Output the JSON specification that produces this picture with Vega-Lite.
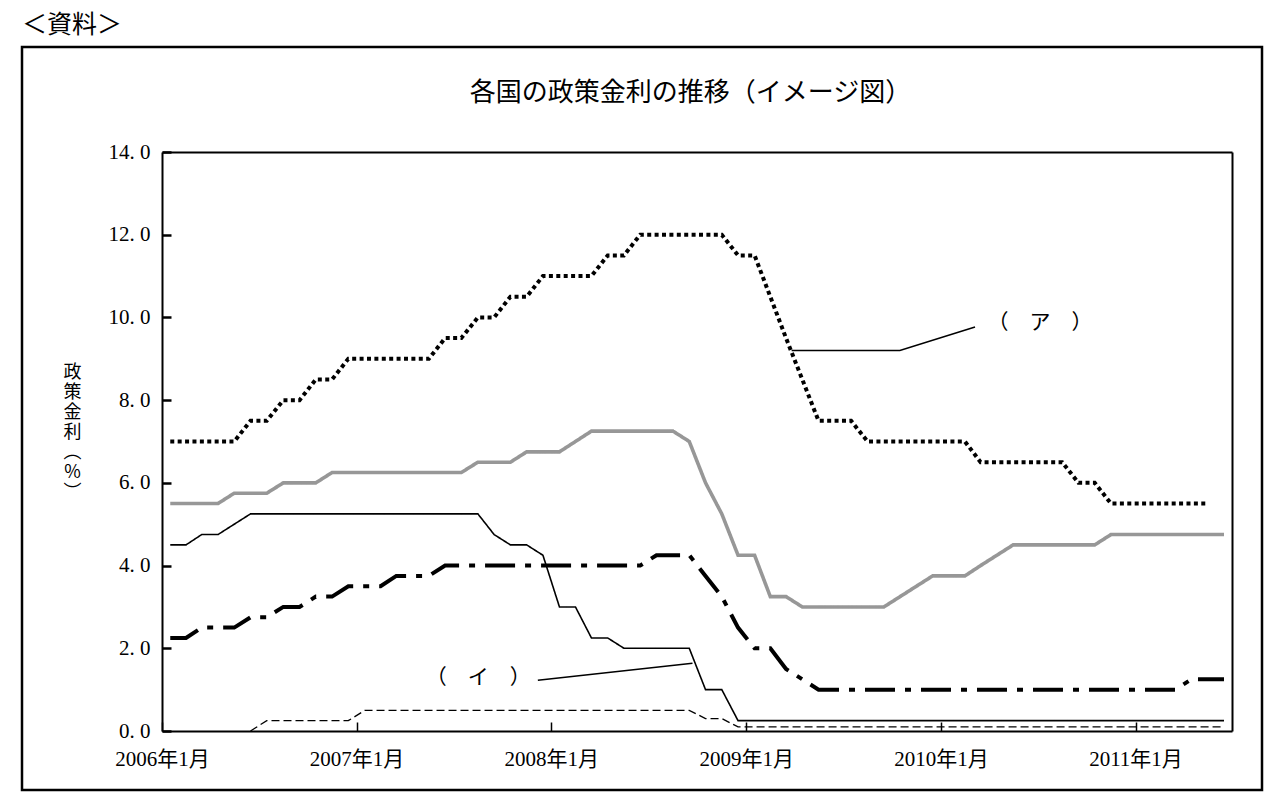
{
  "$schema": "https://vega.github.io/schema/vega-lite/v6.json",
  "width": 1240,
  "height": 743,
  "autosize": {"type": "none"},
  "padding": {"left": 22, "top": 47, "right": 18, "bottom": 14},
  "background": "white",
  "title": {"text": "＜資料＞", "anchor": "start", "frame": "group", "baseline": "bottom", "offset": 9, "dy": 25, "font": "Noto Sans CJK JP", "fontSize": 25, "fontWeight": "normal", "color": "black"},
  "config": {
    "view": {"stroke": "black", "strokeWidth": 2.5},
    "axis": {"grid": false}
  },
  "datasets": {
    "rates": [
      {"month": "2006-01", "series": "ア", "rate": 7.0}, {"month": "2006-02", "series": "ア", "rate": 7.0}, {"month": "2006-03", "series": "ア", "rate": 7.0}, {"month": "2006-04", "series": "ア", "rate": 7.0}, {"month": "2006-05", "series": "ア", "rate": 7.0}, {"month": "2006-06", "series": "ア", "rate": 7.5}, {"month": "2006-07", "series": "ア", "rate": 7.5}, {"month": "2006-08", "series": "ア", "rate": 8.0}, {"month": "2006-09", "series": "ア", "rate": 8.0}, {"month": "2006-10", "series": "ア", "rate": 8.5}, {"month": "2006-11", "series": "ア", "rate": 8.5}, {"month": "2006-12", "series": "ア", "rate": 9.0},
      {"month": "2007-01", "series": "ア", "rate": 9.0}, {"month": "2007-02", "series": "ア", "rate": 9.0}, {"month": "2007-03", "series": "ア", "rate": 9.0}, {"month": "2007-04", "series": "ア", "rate": 9.0}, {"month": "2007-05", "series": "ア", "rate": 9.0}, {"month": "2007-06", "series": "ア", "rate": 9.5}, {"month": "2007-07", "series": "ア", "rate": 9.5}, {"month": "2007-08", "series": "ア", "rate": 10.0}, {"month": "2007-09", "series": "ア", "rate": 10.0}, {"month": "2007-10", "series": "ア", "rate": 10.5}, {"month": "2007-11", "series": "ア", "rate": 10.5}, {"month": "2007-12", "series": "ア", "rate": 11.0},
      {"month": "2008-01", "series": "ア", "rate": 11.0}, {"month": "2008-02", "series": "ア", "rate": 11.0}, {"month": "2008-03", "series": "ア", "rate": 11.0}, {"month": "2008-04", "series": "ア", "rate": 11.5}, {"month": "2008-05", "series": "ア", "rate": 11.5}, {"month": "2008-06", "series": "ア", "rate": 12.0}, {"month": "2008-07", "series": "ア", "rate": 12.0}, {"month": "2008-08", "series": "ア", "rate": 12.0}, {"month": "2008-09", "series": "ア", "rate": 12.0}, {"month": "2008-10", "series": "ア", "rate": 12.0}, {"month": "2008-11", "series": "ア", "rate": 12.0}, {"month": "2008-12", "series": "ア", "rate": 11.5},
      {"month": "2009-01", "series": "ア", "rate": 11.5}, {"month": "2009-02", "series": "ア", "rate": 10.5}, {"month": "2009-03", "series": "ア", "rate": 9.5}, {"month": "2009-04", "series": "ア", "rate": 8.5}, {"month": "2009-05", "series": "ア", "rate": 7.5}, {"month": "2009-06", "series": "ア", "rate": 7.5}, {"month": "2009-07", "series": "ア", "rate": 7.5}, {"month": "2009-08", "series": "ア", "rate": 7.0}, {"month": "2009-09", "series": "ア", "rate": 7.0}, {"month": "2009-10", "series": "ア", "rate": 7.0}, {"month": "2009-11", "series": "ア", "rate": 7.0}, {"month": "2009-12", "series": "ア", "rate": 7.0},
      {"month": "2010-01", "series": "ア", "rate": 7.0}, {"month": "2010-02", "series": "ア", "rate": 7.0}, {"month": "2010-03", "series": "ア", "rate": 6.5}, {"month": "2010-04", "series": "ア", "rate": 6.5}, {"month": "2010-05", "series": "ア", "rate": 6.5}, {"month": "2010-06", "series": "ア", "rate": 6.5}, {"month": "2010-07", "series": "ア", "rate": 6.5}, {"month": "2010-08", "series": "ア", "rate": 6.5}, {"month": "2010-09", "series": "ア", "rate": 6.0}, {"month": "2010-10", "series": "ア", "rate": 6.0}, {"month": "2010-11", "series": "ア", "rate": 5.5}, {"month": "2010-12", "series": "ア", "rate": 5.5},
      {"month": "2011-01", "series": "ア", "rate": 5.5}, {"month": "2011-02", "series": "ア", "rate": 5.5}, {"month": "2011-03", "series": "ア", "rate": 5.5}, {"month": "2011-04", "series": "ア", "rate": 5.5}, {"month": "2011-05", "series": "ア", "rate": 5.5},

      {"month": "2006-01", "series": "灰色", "rate": 5.5}, {"month": "2006-02", "series": "灰色", "rate": 5.5}, {"month": "2006-03", "series": "灰色", "rate": 5.5}, {"month": "2006-04", "series": "灰色", "rate": 5.5}, {"month": "2006-05", "series": "灰色", "rate": 5.75}, {"month": "2006-06", "series": "灰色", "rate": 5.75}, {"month": "2006-07", "series": "灰色", "rate": 5.75}, {"month": "2006-08", "series": "灰色", "rate": 6.0}, {"month": "2006-09", "series": "灰色", "rate": 6.0}, {"month": "2006-10", "series": "灰色", "rate": 6.0}, {"month": "2006-11", "series": "灰色", "rate": 6.25}, {"month": "2006-12", "series": "灰色", "rate": 6.25},
      {"month": "2007-01", "series": "灰色", "rate": 6.25}, {"month": "2007-02", "series": "灰色", "rate": 6.25}, {"month": "2007-03", "series": "灰色", "rate": 6.25}, {"month": "2007-04", "series": "灰色", "rate": 6.25}, {"month": "2007-05", "series": "灰色", "rate": 6.25}, {"month": "2007-06", "series": "灰色", "rate": 6.25}, {"month": "2007-07", "series": "灰色", "rate": 6.25}, {"month": "2007-08", "series": "灰色", "rate": 6.5}, {"month": "2007-09", "series": "灰色", "rate": 6.5}, {"month": "2007-10", "series": "灰色", "rate": 6.5}, {"month": "2007-11", "series": "灰色", "rate": 6.75}, {"month": "2007-12", "series": "灰色", "rate": 6.75},
      {"month": "2008-01", "series": "灰色", "rate": 6.75}, {"month": "2008-02", "series": "灰色", "rate": 7.0}, {"month": "2008-03", "series": "灰色", "rate": 7.25}, {"month": "2008-04", "series": "灰色", "rate": 7.25}, {"month": "2008-05", "series": "灰色", "rate": 7.25}, {"month": "2008-06", "series": "灰色", "rate": 7.25}, {"month": "2008-07", "series": "灰色", "rate": 7.25}, {"month": "2008-08", "series": "灰色", "rate": 7.25}, {"month": "2008-09", "series": "灰色", "rate": 7.0}, {"month": "2008-10", "series": "灰色", "rate": 6.0}, {"month": "2008-11", "series": "灰色", "rate": 5.25}, {"month": "2008-12", "series": "灰色", "rate": 4.25},
      {"month": "2009-01", "series": "灰色", "rate": 4.25}, {"month": "2009-02", "series": "灰色", "rate": 3.25}, {"month": "2009-03", "series": "灰色", "rate": 3.25}, {"month": "2009-04", "series": "灰色", "rate": 3.0}, {"month": "2009-05", "series": "灰色", "rate": 3.0}, {"month": "2009-06", "series": "灰色", "rate": 3.0}, {"month": "2009-07", "series": "灰色", "rate": 3.0}, {"month": "2009-08", "series": "灰色", "rate": 3.0}, {"month": "2009-09", "series": "灰色", "rate": 3.0}, {"month": "2009-10", "series": "灰色", "rate": 3.25}, {"month": "2009-11", "series": "灰色", "rate": 3.5}, {"month": "2009-12", "series": "灰色", "rate": 3.75},
      {"month": "2010-01", "series": "灰色", "rate": 3.75}, {"month": "2010-02", "series": "灰色", "rate": 3.75}, {"month": "2010-03", "series": "灰色", "rate": 4.0}, {"month": "2010-04", "series": "灰色", "rate": 4.25}, {"month": "2010-05", "series": "灰色", "rate": 4.5}, {"month": "2010-06", "series": "灰色", "rate": 4.5}, {"month": "2010-07", "series": "灰色", "rate": 4.5}, {"month": "2010-08", "series": "灰色", "rate": 4.5}, {"month": "2010-09", "series": "灰色", "rate": 4.5}, {"month": "2010-10", "series": "灰色", "rate": 4.5}, {"month": "2010-11", "series": "灰色", "rate": 4.75}, {"month": "2010-12", "series": "灰色", "rate": 4.75},
      {"month": "2011-01", "series": "灰色", "rate": 4.75}, {"month": "2011-02", "series": "灰色", "rate": 4.75}, {"month": "2011-03", "series": "灰色", "rate": 4.75}, {"month": "2011-04", "series": "灰色", "rate": 4.75}, {"month": "2011-05", "series": "灰色", "rate": 4.75}, {"month": "2011-06", "series": "灰色", "rate": 4.75},

      {"month": "2006-01", "series": "イ", "rate": 4.5}, {"month": "2006-02", "series": "イ", "rate": 4.5}, {"month": "2006-03", "series": "イ", "rate": 4.75}, {"month": "2006-04", "series": "イ", "rate": 4.75}, {"month": "2006-05", "series": "イ", "rate": 5.0}, {"month": "2006-06", "series": "イ", "rate": 5.25}, {"month": "2006-07", "series": "イ", "rate": 5.25}, {"month": "2006-08", "series": "イ", "rate": 5.25}, {"month": "2006-09", "series": "イ", "rate": 5.25}, {"month": "2006-10", "series": "イ", "rate": 5.25}, {"month": "2006-11", "series": "イ", "rate": 5.25}, {"month": "2006-12", "series": "イ", "rate": 5.25},
      {"month": "2007-01", "series": "イ", "rate": 5.25}, {"month": "2007-02", "series": "イ", "rate": 5.25}, {"month": "2007-03", "series": "イ", "rate": 5.25}, {"month": "2007-04", "series": "イ", "rate": 5.25}, {"month": "2007-05", "series": "イ", "rate": 5.25}, {"month": "2007-06", "series": "イ", "rate": 5.25}, {"month": "2007-07", "series": "イ", "rate": 5.25}, {"month": "2007-08", "series": "イ", "rate": 5.25}, {"month": "2007-09", "series": "イ", "rate": 4.75}, {"month": "2007-10", "series": "イ", "rate": 4.5}, {"month": "2007-11", "series": "イ", "rate": 4.5}, {"month": "2007-12", "series": "イ", "rate": 4.25},
      {"month": "2008-01", "series": "イ", "rate": 3.0}, {"month": "2008-02", "series": "イ", "rate": 3.0}, {"month": "2008-03", "series": "イ", "rate": 2.25}, {"month": "2008-04", "series": "イ", "rate": 2.25}, {"month": "2008-05", "series": "イ", "rate": 2.0}, {"month": "2008-06", "series": "イ", "rate": 2.0}, {"month": "2008-07", "series": "イ", "rate": 2.0}, {"month": "2008-08", "series": "イ", "rate": 2.0}, {"month": "2008-09", "series": "イ", "rate": 2.0}, {"month": "2008-10", "series": "イ", "rate": 1.0}, {"month": "2008-11", "series": "イ", "rate": 1.0}, {"month": "2008-12", "series": "イ", "rate": 0.25},
      {"month": "2009-01", "series": "イ", "rate": 0.25}, {"month": "2009-06", "series": "イ", "rate": 0.25}, {"month": "2009-12", "series": "イ", "rate": 0.25}, {"month": "2010-06", "series": "イ", "rate": 0.25}, {"month": "2010-12", "series": "イ", "rate": 0.25}, {"month": "2011-06", "series": "イ", "rate": 0.25},

      {"month": "2006-01", "series": "一点鎖線", "rate": 2.25}, {"month": "2006-02", "series": "一点鎖線", "rate": 2.25}, {"month": "2006-03", "series": "一点鎖線", "rate": 2.5}, {"month": "2006-04", "series": "一点鎖線", "rate": 2.5}, {"month": "2006-05", "series": "一点鎖線", "rate": 2.5}, {"month": "2006-06", "series": "一点鎖線", "rate": 2.75}, {"month": "2006-07", "series": "一点鎖線", "rate": 2.75}, {"month": "2006-08", "series": "一点鎖線", "rate": 3.0}, {"month": "2006-09", "series": "一点鎖線", "rate": 3.0}, {"month": "2006-10", "series": "一点鎖線", "rate": 3.25}, {"month": "2006-11", "series": "一点鎖線", "rate": 3.25}, {"month": "2006-12", "series": "一点鎖線", "rate": 3.5},
      {"month": "2007-01", "series": "一点鎖線", "rate": 3.5}, {"month": "2007-02", "series": "一点鎖線", "rate": 3.5}, {"month": "2007-03", "series": "一点鎖線", "rate": 3.75}, {"month": "2007-04", "series": "一点鎖線", "rate": 3.75}, {"month": "2007-05", "series": "一点鎖線", "rate": 3.75}, {"month": "2007-06", "series": "一点鎖線", "rate": 4.0}, {"month": "2007-09", "series": "一点鎖線", "rate": 4.0}, {"month": "2007-12", "series": "一点鎖線", "rate": 4.0},
      {"month": "2008-03", "series": "一点鎖線", "rate": 4.0}, {"month": "2008-06", "series": "一点鎖線", "rate": 4.0}, {"month": "2008-07", "series": "一点鎖線", "rate": 4.25}, {"month": "2008-08", "series": "一点鎖線", "rate": 4.25}, {"month": "2008-09", "series": "一点鎖線", "rate": 4.25}, {"month": "2008-10", "series": "一点鎖線", "rate": 3.75}, {"month": "2008-11", "series": "一点鎖線", "rate": 3.25}, {"month": "2008-12", "series": "一点鎖線", "rate": 2.5},
      {"month": "2009-01", "series": "一点鎖線", "rate": 2.0}, {"month": "2009-02", "series": "一点鎖線", "rate": 2.0}, {"month": "2009-03", "series": "一点鎖線", "rate": 1.5}, {"month": "2009-04", "series": "一点鎖線", "rate": 1.25}, {"month": "2009-05", "series": "一点鎖線", "rate": 1.0}, {"month": "2009-09", "series": "一点鎖線", "rate": 1.0}, {"month": "2010-01", "series": "一点鎖線", "rate": 1.0}, {"month": "2010-06", "series": "一点鎖線", "rate": 1.0}, {"month": "2010-12", "series": "一点鎖線", "rate": 1.0}, {"month": "2011-03", "series": "一点鎖線", "rate": 1.0}, {"month": "2011-04", "series": "一点鎖線", "rate": 1.25}, {"month": "2011-05", "series": "一点鎖線", "rate": 1.25}, {"month": "2011-06", "series": "一点鎖線", "rate": 1.25},

      {"month": "2006-06", "series": "破線", "rate": 0.0}, {"month": "2006-07", "series": "破線", "rate": 0.25}, {"month": "2006-12", "series": "破線", "rate": 0.25}, {"month": "2007-01", "series": "破線", "rate": 0.5}, {"month": "2007-06", "series": "破線", "rate": 0.5}, {"month": "2007-12", "series": "破線", "rate": 0.5}, {"month": "2008-06", "series": "破線", "rate": 0.5}, {"month": "2008-09", "series": "破線", "rate": 0.5}, {"month": "2008-10", "series": "破線", "rate": 0.3}, {"month": "2008-11", "series": "破線", "rate": 0.3}, {"month": "2008-12", "series": "破線", "rate": 0.1}, {"month": "2009-06", "series": "破線", "rate": 0.1}, {"month": "2009-12", "series": "破線", "rate": 0.1}, {"month": "2010-06", "series": "破線", "rate": 0.1}, {"month": "2010-12", "series": "破線", "rate": 0.1}, {"month": "2011-06", "series": "破線", "rate": 0.1}
    ],
    "pointers": [
      {"month": "2009-03-27", "rate": 9.2, "label": "ア"},
      {"month": "2009-10-16", "rate": 9.2, "label": "ア"},
      {"month": "2010-03-06", "rate": 9.77, "label": "ア"},
      {"month": "2007-12-07", "rate": 1.23, "label": "イ"},
      {"month": "2008-09-22", "rate": 1.64, "label": "イ"}
    ],
    "labels": [
      {"month": "2010-07-06", "rate": 9.86, "text": "（　ア　）"},
      {"month": "2007-08-17", "rate": 1.28, "text": "（　イ　）"}
    ]
  },
  "layer": [
    {
      "data": {"name": "rates"},
      "mark": {"type": "line", "strokeCap": "butt", "strokeJoin": "miter"},
      "encoding": {
        "x": {
          "field": "month", "type": "temporal", "timeUnit": "utcyearmonth", "bandPosition": 0.5,
          "scale": {"type": "utc", "domain": [{"year": 2006, "month": 1, "date": 1, "utc": true}, {"year": 2011, "month": 7, "date": 1, "utc": true}], "range": [140, 1210], "nice": false},
          "axis": {
            "orient": "bottom", "offset": -59, "title": null,
            "values": [{"year": 2006, "month": 1, "date": 1, "utc": true}, {"year": 2007, "month": 1, "date": 1, "utc": true}, {"year": 2008, "month": 1, "date": 1, "utc": true}, {"year": 2009, "month": 1, "date": 1, "utc": true}, {"year": 2010, "month": 1, "date": 1, "utc": true}, {"year": 2011, "month": 1, "date": 1, "utc": true}],
            "labelExpr": "utcFormat(datum.value, '%Y年%-m月')",
            "domainColor": "black", "domainWidth": 2, "tickColor": "black", "tickSize": -9, "tickWidth": 1.5,
            "labelFont": "Liberation Serif, Noto Sans CJK JP", "labelFontSize": 21, "labelColor": "black", "labelPadding": 26,
            "labelFlush": false, "labelOverlap": false
          }
        },
        "y": {
          "field": "rate", "type": "quantitative",
          "scale": {"domain": [0, 14], "range": [684, 105], "nice": false, "zero": false},
          "axis": {
            "orient": "left", "offset": -140,
            "values": [0, 2, 4, 6, 8, 10, 12, 14],
            "labelExpr": "replace(format(datum.value, '.1f'), '.', '. ')",
            "domainColor": "black", "domainWidth": 2, "tickColor": "black", "tickSize": -9, "tickWidth": 2.5,
            "labelFont": "Liberation Serif", "labelFontSize": 21, "labelColor": "black", "labelPadding": 21,
            "title": ["政", "策", "金", "利", " ", "︵", "%", "︶"],
            "titleFont": "Noto Sans CJK JP", "titleFontSize": 18, "titleFontWeight": "normal", "titleColor": "black",
            "titleAngle": 0, "titleAlign": "center", "titleBaseline": "top", "titleLineHeight": 20,
            "titleX": -90, "titleY": 316
          }
        },
        "color": {"field": "series", "type": "nominal", "legend": null,
          "scale": {"domain": ["ア", "灰色", "イ", "一点鎖線", "破線"], "range": ["black", "#979797", "black", "black", "black"]}},
        "strokeDash": {"field": "series", "type": "nominal", "legend": null,
          "scale": {"type": "ordinal", "domain": ["ア", "灰色", "イ", "一点鎖線", "破線"], "range": [[4, 3.4], [1, 0], [1, 0], [30, 10, 6, 10], [8, 4]]}},
        "strokeWidth": {"field": "series", "type": "nominal", "legend": null,
          "scale": {"type": "ordinal", "domain": ["ア", "灰色", "イ", "一点鎖線", "破線"], "range": [4, 3.6, 1.6, 4, 1.3]}}
      }
    },
    {
      "data": {"name": "pointers"},
      "mark": {"type": "line", "color": "black", "strokeWidth": 1.5},
      "encoding": {
        "x": {
          "field": "month", "type": "temporal",
          "scale": {"type": "utc", "domain": [{"year": 2006, "month": 1, "date": 1, "utc": true}, {"year": 2011, "month": 7, "date": 1, "utc": true}], "range": [140, 1210], "nice": false},
          "axis": {
            "orient": "top", "offset": -105, "labels": false, "ticks": false, "domainColor": "black", "domainWidth": 2,
            "title": "各国の政策金利の推移（イメージ図）",
            "titleFont": "Noto Sans CJK JP", "titleFontSize": 26, "titleFontWeight": "normal", "titleColor": "black",
            "titleAlign": "center", "titleBaseline": "middle", "titleX": 668, "titleY": -60
          }
        },
        "y": {
          "field": "rate", "type": "quantitative",
          "scale": {"domain": [0, 14], "range": [684, 105], "nice": false, "zero": false},
          "axis": {"orient": "right", "offset": -30, "labels": false, "ticks": false, "title": null, "domainColor": "black", "domainWidth": 2}
        },
        "detail": {"field": "label", "type": "nominal"}
      }
    },
    {
      "data": {"name": "labels"},
      "mark": {"type": "text", "font": "Noto Sans CJK JP", "fontSize": 21, "color": "black", "align": "center", "baseline": "middle"},
      "encoding": {
        "x": {
          "field": "month", "type": "temporal",
          "scale": {"type": "utc", "domain": [{"year": 2006, "month": 1, "date": 1, "utc": true}, {"year": 2011, "month": 7, "date": 1, "utc": true}], "range": [140, 1210], "nice": false},
          "axis": null
        },
        "y": {
          "field": "rate", "type": "quantitative",
          "scale": {"domain": [0, 14], "range": [684, 105], "nice": false, "zero": false},
          "axis": null
        },
        "text": {"field": "text", "type": "nominal"}
      }
    }
  ],
  "resolve": {"axis": {"x": "independent", "y": "independent"}}
}
